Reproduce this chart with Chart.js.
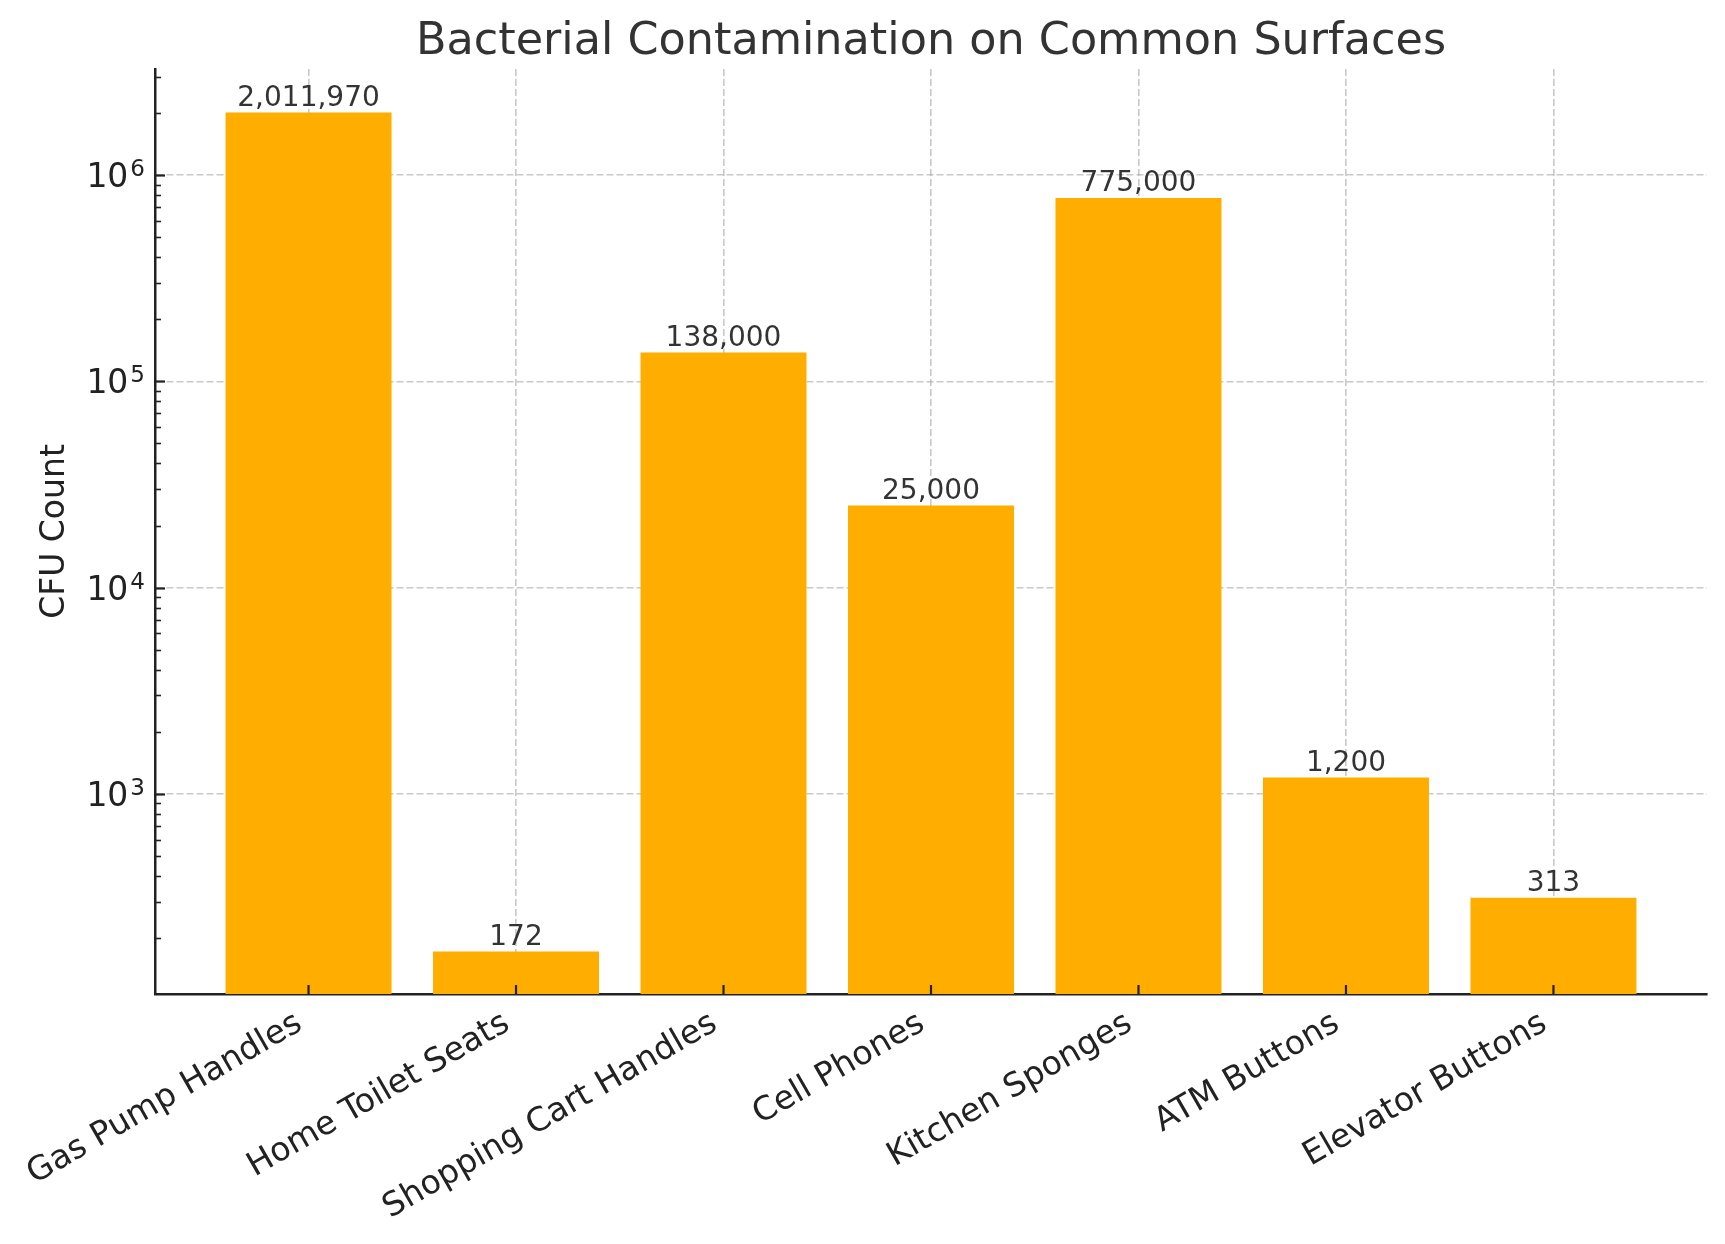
<!DOCTYPE html>
<html>
<head>
<meta charset="utf-8">
<script src="https://cdn.jsdelivr.net/npm/chart.js@4.4.0/dist/chart.umd.min.js"></script>
<style>
    body { margin: 0; background: #fff; }
    #wrap { width: 1725px; height: 1244px; }
</style>
</head>
<body>
<div id="wrap"><canvas id="cfuChart" width="1725" height="1244"></canvas></div>
<script>
// data
var surfaces = ['Gas Pump Handles', 'Home Toilet Seats', 'Shopping Cart Handles', 'Cell Phones',
    'Kitchen Sponges', 'ATM Buttons', 'Elevator Buttons'];
var cfuCounts = [2011970, 172, 138000, 25000, 775000, 1200, 313];
var decadeTicks = [1e3, 1e4, 1e5, 1e6];
var yMin = 107;
var yMax = 3.27e6;
var xMin = -0.74;
var xMax = 6.74;

var FONT = 'DejaVu Sans';
var gridColor = 'rgba(165,165,165,0.6)';

function isDecade(v) {
    return decadeTicks.indexOf(v) !== -1;
}

// major + minor log ticks inside the range
function buildLogTicks() {
    var t = [];
    for (var e = 2; e <= 6; e++) {
        for (var m = 1; m <= 9; m++) {
            var v = m * Math.pow(10, e);
            if (v >= yMin && v <= yMax) t.push({ value: v, major: m === 1 });
        }
    }
    return t;
}

var titlePlugin = {
    id: 'titleOverArea',
    afterDraw: function (chart) {
        var ctx = chart.ctx, area = chart.chartArea;
        ctx.save();
        ctx.font = '44.5px "' + FONT + '"';
        ctx.fillStyle = '#333333';
        ctx.textAlign = 'center';
        ctx.textBaseline = 'alphabetic';
        ctx.fillText('Bacterial Contamination on Common Surfaces', (area.left + area.right) / 2, 54);
        ctx.restore();
    }
};

// 10^n labels with a real raised exponent
var powerLabels = {
    id: 'powerLabels',
    afterDraw: function (chart) {
        var ctx = chart.ctx, area = chart.chartArea, y = chart.scales.y;
        var right = area.left - 10;
        ctx.save();
        ctx.fillStyle = '#222222';
        ctx.textAlign = 'right';
        ctx.textBaseline = 'alphabetic';
        decadeTicks.forEach(function (v) {
            var py = y.getPixelForValue(v);
            var exp = String(Math.round(Math.log10(v)));
            ctx.font = '23px "' + FONT + '"';
            var w = ctx.measureText(exp).width;
            ctx.fillText(exp, right, py + 1);
            ctx.font = '33px "' + FONT + '"';
            ctx.fillText('10', right - w - 2, py + 12);
        });
        ctx.restore();
    }
};

// matplotlib style ticks pointing into the plot
var inwardTicks = {
    id: 'inwardTicks',
    afterDraw: function (chart) {
        var ctx = chart.ctx, area = chart.chartArea;
        var x = chart.scales.x, y = chart.scales.y;
        ctx.save();
        ctx.strokeStyle = '#222222';
        y.ticks.forEach(function (t) {
            var py = Math.round(y.getPixelForValue(t.value)) + 0.5;
            var major = isDecade(t.value);
            ctx.lineWidth = major ? 2.2 : 1.6;
            ctx.beginPath();
            ctx.moveTo(area.left, py);
            ctx.lineTo(area.left + (major ? 10 : 6), py);
            ctx.stroke();
        });
        x.ticks.forEach(function (t) {
            var px = x.getPixelForValue(t.value);
            ctx.lineWidth = 2.2;
            ctx.beginPath();
            ctx.moveTo(px, area.bottom);
            ctx.lineTo(px, area.bottom - 9);
            ctx.stroke();
        });
        ctx.restore();
    }
};

var valueLabels = {
    id: 'valueLabels',
    afterDraw: function (chart) {
        var ctx = chart.ctx;
        var meta = chart.getDatasetMeta(0);
        ctx.save();
        ctx.font = '28px "' + FONT + '"';
        ctx.fillStyle = '#333333';
        ctx.textAlign = 'center';
        ctx.textBaseline = 'bottom';
        meta.data.forEach(function (bar, i) {
            ctx.fillText(cfuCounts[i].toLocaleString('en-US'), bar.x, bar.y);
        });
        ctx.restore();
    }
};

new Chart(document.getElementById('cfuChart'), {
    type: 'bar',
    data: {
        datasets: [{
            data: cfuCounts.map(function (v, i) { return { x: i, y: v }; }),
            backgroundColor: '#FFAE00',
            barPercentage: 0.8,
            categoryPercentage: 1.0
        }]
    },
    options: {
        responsive: false,
        animation: false,
        layout: { padding: { top: 69, right: 18, left: 0, bottom: 0 } },
        plugins: {
            legend: { display: false },
            tooltip: { enabled: false }
        },
        scales: {
            x: {
                type: 'linear',
                min: xMin,
                max: xMax,
                offset: false,
                z: 1,
                afterBuildTicks: function (s) {
                    s.ticks = surfaces.map(function (_, i) { return { value: i }; });
                },
                afterFit: function (s) { s.height = 250; },
                grid: { color: gridColor, lineWidth: 1.6, drawTicks: false, offset: false },
                border: { color: '#222222', width: 2.5, dash: [7, 3] },
                ticks: {
                    autoSkip: false,
                    minRotation: 30,
                    maxRotation: 30,
                    padding: 10,
                    labelOffset: -9,
                    color: '#222222',
                    font: { family: FONT, size: 33 },
                    callback: function (v) { return surfaces[v]; }
                }
            },
            y: {
                type: 'logarithmic',
                min: yMin,
                max: yMax,
                z: 1,
                afterBuildTicks: function (s) { s.ticks = buildLogTicks(); },
                afterFit: function (s) { s.width = 155; },
                grid: {
                    color: function (c) {
                        return c.tick && isDecade(c.tick.value) ? gridColor : 'transparent';
                    },
                    lineWidth: 1.6,
                    drawTicks: false
                },
                border: { color: '#222222', width: 2.5, dash: [7, 3] },
                ticks: {
                    autoSkip: false,
                    padding: 10,
                    font: { family: FONT, size: 33 },
                    callback: function () { return ''; }
                },
                title: {
                    display: true,
                    text: 'CFU Count',
                    color: '#222222',
                    font: { family: FONT, size: 33 },
                    padding: { top: 36, bottom: 0 }
                }
            }
        }
    },
    plugins: [titlePlugin, powerLabels, inwardTicks, valueLabels]
});
</script>
</body>
</html>
